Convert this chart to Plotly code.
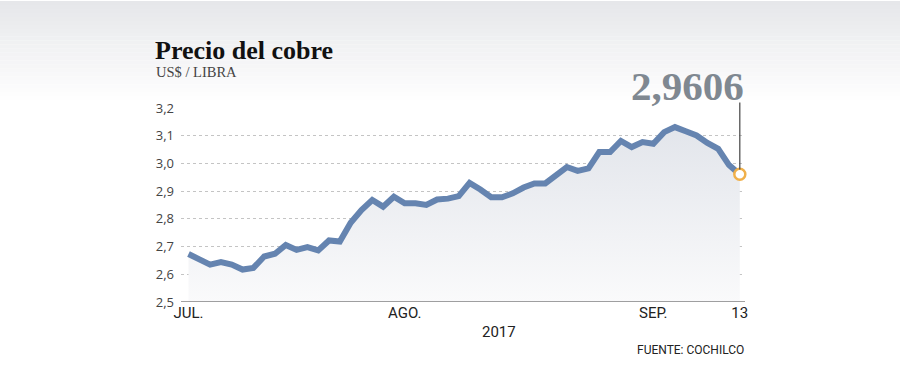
import plotly.graph_objects as go

# ---- data ----
dates = [
    "2017-07-03", "2017-07-04", "2017-07-05", "2017-07-06", "2017-07-07",
    "2017-07-10", "2017-07-11", "2017-07-12", "2017-07-13", "2017-07-14",
    "2017-07-17", "2017-07-18", "2017-07-19", "2017-07-20", "2017-07-21",
    "2017-07-24", "2017-07-25", "2017-07-26", "2017-07-27", "2017-07-28",
    "2017-07-31",
    "2017-08-01", "2017-08-02", "2017-08-03", "2017-08-04",
    "2017-08-07", "2017-08-08", "2017-08-09", "2017-08-10", "2017-08-11",
    "2017-08-14", "2017-08-15", "2017-08-16", "2017-08-17", "2017-08-18",
    "2017-08-21", "2017-08-22", "2017-08-23", "2017-08-24", "2017-08-25",
    "2017-08-29", "2017-08-30", "2017-08-31",
    "2017-09-01", "2017-09-04", "2017-09-05", "2017-09-06", "2017-09-07",
    "2017-09-08", "2017-09-11", "2017-09-12", "2017-09-13",
]
precio = [
    2.673, 2.653, 2.635, 2.644, 2.635, 2.617, 2.623, 2.664, 2.674, 2.706,
    2.688, 2.698, 2.686, 2.722, 2.718, 2.786, 2.832, 2.868, 2.844, 2.880,
    2.856, 2.856, 2.850, 2.870, 2.873, 2.882, 2.930, 2.906, 2.878, 2.878,
    2.892, 2.913, 2.928, 2.928, 2.958, 2.987, 2.973, 2.982, 3.041, 3.041,
    3.081, 3.059, 3.077, 3.071, 3.113, 3.131, 3.116, 3.101, 3.074, 3.053,
    2.994, 2.9606,
]
x_tick_dates = ["2017-07-03", "2017-07-31", "2017-09-01", "2017-09-13"]
x_tick_labels = ["JUL.", "AGO.", "SEP.", "13"]
y_tick_vals = [2.5, 2.6, 2.7, 2.8, 2.9, 3.0, 3.1, 3.2]
y_tick_labels = ["2,5", "2,6", "2,7", "2,8", "2,9", "3,0", "3,1", "3,2"]
ultimo_texto = "2,9606"

# ---- layout geometry (pixels) ----
W, H = 900, 368
L, R, T, B = 181, 745, 107.5, 302.5


def px(xp):
    return (xp - L) / (R - L)


def py(yp):
    return (B - yp) / (B - T)


fig = go.Figure()

fig.add_trace(go.Scatter(
    x=dates, y=precio, mode="lines",
    line=dict(color="#6584b0", width=6),
    fill="tozeroy",
    fillgradient=dict(type="vertical", start=2.5, stop=3.135,
                      colorscale=[[0, "rgba(250,250,251,1)"], [1, "rgba(226,229,235,1)"]]),
    hoverinfo="skip", showlegend=False,
))
fig.add_trace(go.Scatter(
    x=[dates[-1]], y=[precio[-1]], mode="markers",
    marker=dict(size=11, color="white", line=dict(color="#f0b04a", width=2.5)),
    cliponaxis=False, hoverinfo="skip", showlegend=False,
))

shapes = []
# top background gradient
n = 26
for i in range(n):
    y0p = i * 4
    y1p = (i + 1) * 4
    t = i / (n - 1)
    c0 = (230, 231, 234)
    c = tuple(round(c0[k] + (255 - c0[k]) * t) for k in range(3))
    shapes.append(dict(type="rect", xref="paper", yref="paper",
                       x0=px(0), x1=px(W), y0=py(y1p), y1=py(y0p),
                       fillcolor="rgb(%d,%d,%d)" % c, line=dict(width=0), layer="below"))
# vertical marker line from the last point to the label
shapes.append(dict(type="line", xref="x", yref="paper",
                   x0=len(dates) - 1, x1=len(dates) - 1,
                   y0=(precio[-1] - 2.5) / 0.7 + 0.025, y1=py(102),
                   line=dict(color="#444444", width=1.2)))

annotations = [
    dict(text="<b>Precio del cobre</b>", xref="paper", yref="paper",
         x=px(153), y=py(50), xanchor="left", yanchor="middle", showarrow=False,
         font=dict(family="Liberation Serif", size=26, color="#111111")),
    dict(text="US$ / LIBRA", xref="paper", yref="paper",
         x=px(154), y=py(71), xanchor="left", yanchor="middle", showarrow=False,
         font=dict(family="Liberation Serif", size=14.5, color="#444444")),
    dict(text="<b>" + ultimo_texto + "</b>", xref="paper", yref="paper",
         x=px(746), y=py(85), xanchor="right", yanchor="middle", showarrow=False,
         font=dict(family="Liberation Serif", size=41, color="#7f8891")),
    dict(text="2017", xref="paper", yref="paper",
         x=px(499), y=py(333), xanchor="center", yanchor="middle", showarrow=False,
         font=dict(family="Liberation Sans Narrow, Roboto, sans-serif", size=15, color="#222222")),
    dict(text="FUENTE: COCHILCO", xref="paper", yref="paper",
         x=px(746), y=py(351), xanchor="right", yanchor="middle", showarrow=False,
         font=dict(family="Liberation Sans Narrow, Roboto, sans-serif", size=12, color="#222222")),
]

fig.update_layout(
    width=W, height=H,
    margin=dict(l=L, r=W - R, t=T, b=H - B, pad=0),
    paper_bgcolor="white", plot_bgcolor="rgba(0,0,0,0)",
    shapes=shapes, annotations=annotations,
    xaxis=dict(type="category", categoryorder="array", categoryarray=dates,
               range=[(L - 188.5) / 10.81, (R - 188.5) / 10.81],
               tickvals=x_tick_dates, ticktext=x_tick_labels,
               showgrid=False, zeroline=False, showline=False, ticks="",
               tickfont=dict(family="Liberation Sans Narrow, Roboto, sans-serif", size=15, color="#222222"),
               fixedrange=True),
    yaxis=dict(range=[2.5, 3.2], tickvals=y_tick_vals, ticktext=y_tick_labels,
               showgrid=True, gridcolor="#c4c4c4", griddash="3px,3px", gridwidth=1,
               zeroline=False, showline=False, ticks="", ticklabelstandoff=6,
               tickfont=dict(family="Open Sans", size=13, color="#444444"),
               fixedrange=True),
)
# bottom axis line at 2.5
fig.add_shape(type="line", xref="paper", yref="y", x0=0, x1=1, y0=2.5, y1=2.5,
              line=dict(color="#444444", width=1))

fig.write_html("out.html", config={"displayModeBar": False},
               post_script="document.body.style.margin='0';document.body.style.overflow='hidden';")
